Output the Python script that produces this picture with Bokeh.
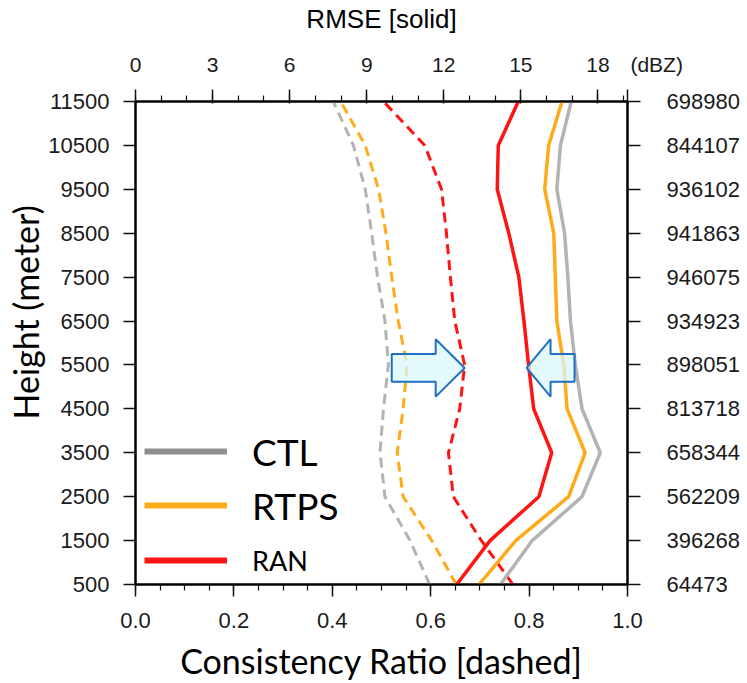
import numpy as np
from bokeh.plotting import figure
from bokeh.models import (Range1d, LinearAxis, FixedTicker, Legend, LegendItem,
                          Title, NumeralTickFormatter)
from bokeh.embed import file_html
from bokeh.resources import INLINE

# ---------------- data ----------------
heights = [500, 1500, 2500, 3500, 4500, 5500, 6500, 7500, 8500, 9500, 10500, 11500]
sample_counts = ["64473", "396268", "562209", "658344", "813718", "898051",
                 "934923", "946075", "941863", "936102", "844107", "698980"]

rmse_ctl = [14.2, 15.44, 17.38, 18.09, 17.38, 17.12, 16.93, 16.83, 16.7, 16.4, 16.54, 16.96]
rmse_rtps = [13.37, 14.8, 16.86, 17.5, 16.8, 16.67, 16.4, 16.34, 16.28, 15.93, 16.08, 16.6]
rmse_ran = [12.5, 13.8, 15.7, 16.2, 15.5, 15.3, 15.12, 14.92, 14.53, 14.08, 14.12, 14.9]

cr_ctl = [0.598, 0.558, 0.507, 0.497, 0.504, 0.514, 0.507, 0.492, 0.480, 0.467, 0.443, 0.402]
cr_rtps = [0.652, 0.602, 0.544, 0.532, 0.544, 0.552, 0.534, 0.521, 0.509, 0.494, 0.467, 0.417]
cr_ran = [0.767, 0.703, 0.646, 0.636, 0.659, 0.669, 0.649, 0.640, 0.632, 0.622, 0.588, 0.504]

ratio_ticks = [0.0, 0.2, 0.4, 0.6, 0.8, 1.0]
rmse_ticks = [0, 3, 6, 9, 12, 15, 18]
rmse_unit = "(dBZ)"
experiments = ["CTL", "RTPS", "RAN"]

# ---------------- style ----------------
C_CTL = "#b3b3b3"
C_CTL_LEG = "#8f8f8f"
C_RTPS = "#ffaa1a"
C_RAN = "#ff1414"
TICK_FONT = "Liberation Sans"
WORD_FONT = "Lato"

RMSE_MAX = 19.15
p = figure(width=747, height=683, x_range=Range1d(0, 1), y_range=Range1d(500, 11500),
           output_backend="svg", toolbar_location=None,
           x_axis_location=None, y_axis_location=None,
           min_border_left=135, min_border_right=120, min_border_top=100,
           min_border_bottom=95, background_fill_color="white",
           border_fill_color="white")
p.extra_x_ranges = {"rmse": Range1d(0, RMSE_MAX)}
p.xgrid.visible = False
p.ygrid.visible = False
p.outline_line_color = "black"
p.outline_line_width = 2


def style_axis(ax, size="22px"):
    ax.axis_line_color = "black"
    ax.axis_line_width = 2
    ax.major_tick_line_color = "#111111"
    ax.major_tick_line_width = 1.5
    ax.minor_tick_line_color = "#111111"
    ax.minor_tick_line_width = 1.2
    ax.major_label_text_font = TICK_FONT
    ax.major_label_text_font_size = size
    ax.major_label_text_color = "#1a1a1a"
    ax.axis_label_text_font_style = "normal"
    ax.axis_label_text_color = "black"


# bottom axis: consistency ratio
xb = LinearAxis(ticker=FixedTicker(ticks=ratio_ticks,
                                   minor_ticks=[round(0.05 * i, 2) for i in range(21)]),
                formatter=NumeralTickFormatter(format="0.0"),
                axis_label="Consistency Ratio [dashed]")
style_axis(xb)
xb.major_tick_out = 12
xb.major_tick_in = 0
xb.minor_tick_out = 6
xb.minor_tick_in = 0
xb.major_label_standoff = 16
xb.axis_label_text_font = WORD_FONT
xb.axis_label_text_font_size = "34px"
xb.axis_label_standoff = 9
p.add_layout(xb, "below")

# top axis: RMSE (unit written at the right end of the axis)
top_ticks = rmse_ticks + [RMSE_MAX]
xt = LinearAxis(x_range_name="rmse",
                ticker=FixedTicker(ticks=top_ticks, minor_ticks=list(range(0, 20))),
                major_label_overrides={RMSE_MAX: "\u00a0" * 10 + rmse_unit},
                axis_label="RMSE [solid]")
style_axis(xt, "21px")
xt.major_tick_out = 12
xt.major_tick_in = 2
xt.minor_tick_out = 6
xt.minor_tick_in = 0
xt.major_label_standoff = 14
xt.axis_label_text_font = TICK_FONT
xt.axis_label_text_font_size = "26px"
xt.axis_label_standoff = 16
p.add_layout(xt, "above")

# left axis: height
yl = LinearAxis(ticker=FixedTicker(ticks=heights, minor_ticks=[]))
style_axis(yl)
yl.major_tick_out = 12
yl.major_tick_in = 0
yl.major_label_standoff = 14
p.add_layout(yl, "left")

# right axis: sample counts
yr = LinearAxis(ticker=FixedTicker(ticks=heights, minor_ticks=[]),
                major_label_overrides={h: s for h, s in zip(heights, sample_counts)})
style_axis(yr)
yr.major_tick_out = 13
yr.major_tick_in = 0
yr.major_label_standoff = 26
p.add_layout(yr, "right")

# y-axis title (placed higher than centre, as in the original)
p.add_layout(Title(text="Height (meter)", align="left", offset=165, standoff=0,
                   text_font=WORD_FONT, text_font_size="34px",
                   text_font_style="normal", text_color="black"), "left")

# ---------------- lines ----------------
dash = "10 6"
for vals, col in [(cr_ctl, C_CTL), (cr_rtps, C_RTPS), (cr_ran, C_RAN)]:
    p.line(vals, heights, line_color=col, line_width=3, line_dash=dash)
for vals, col in [(rmse_ctl, C_CTL), (rmse_rtps, C_RTPS), (rmse_ran, C_RAN)]:
    p.line(vals, heights, line_color=col, line_width=3.5, x_range_name="rmse")

# ---------------- arrows (anchored at RAN at 5500 m) ----------------
PX_W = 492.5
PX_H = 488.0
dy = 11000 / PX_H
k = heights.index(5500)
yc = 5500 - 3 * dy
bh, hh = 14 * dy, 29 * dy

dr = 1 / PX_W
tip = cr_ran[k]
lx = [tip - 73 * dr, tip - 29 * dr, tip - 29 * dr, tip, tip - 29 * dr, tip - 29 * dr, tip - 73 * dr]
ly = [yc + bh, yc + bh, yc + hh, yc, yc - hh, yc - bh, yc - bh]
p.patch(lx, ly, fill_color="#d9f7fb", fill_alpha=0.75, line_color="#1f6fbf", line_width=2)

de = RMSE_MAX / PX_W
tip2 = rmse_ran[k] - 2 * de
rx = [tip2 + 48 * de, tip2 + 24 * de, tip2 + 24 * de, tip2, tip2 + 24 * de, tip2 + 24 * de, tip2 + 48 * de]
p.patch(rx, ly, fill_color="#d9f7fb", fill_alpha=0.75, line_color="#1f6fbf", line_width=2,
        x_range_name="rmse")

# ---------------- legends ----------------
nan2 = np.array([np.nan, np.nan])
leg_specs = [("CTL", C_CTL_LEG, "37px", 133), ("RTPS", C_RTPS, "37px", 79),
             ("RAN", C_RAN, "27px", 24)]
LH = 46
for name, col, fsize, ymid in leg_specs:
    r = p.line(x=nan2, y=nan2, line_color=col, line_width=6)
    lg = Legend(items=[LegendItem(label=name, renderers=[r])],
                location=(9, ymid - LH // 2), orientation="vertical",
                glyph_width=83, glyph_height=LH, label_height=LH,
                label_standoff=25, padding=0, margin=0, spacing=0,
                border_line_alpha=0, background_fill_alpha=0,
                label_text_font=WORD_FONT, label_text_font_size=fsize,
                label_text_color="black", label_text_baseline="middle")
    p.add_layout(lg, "center")

open("out.html", "w").write(file_html(p, INLINE))
